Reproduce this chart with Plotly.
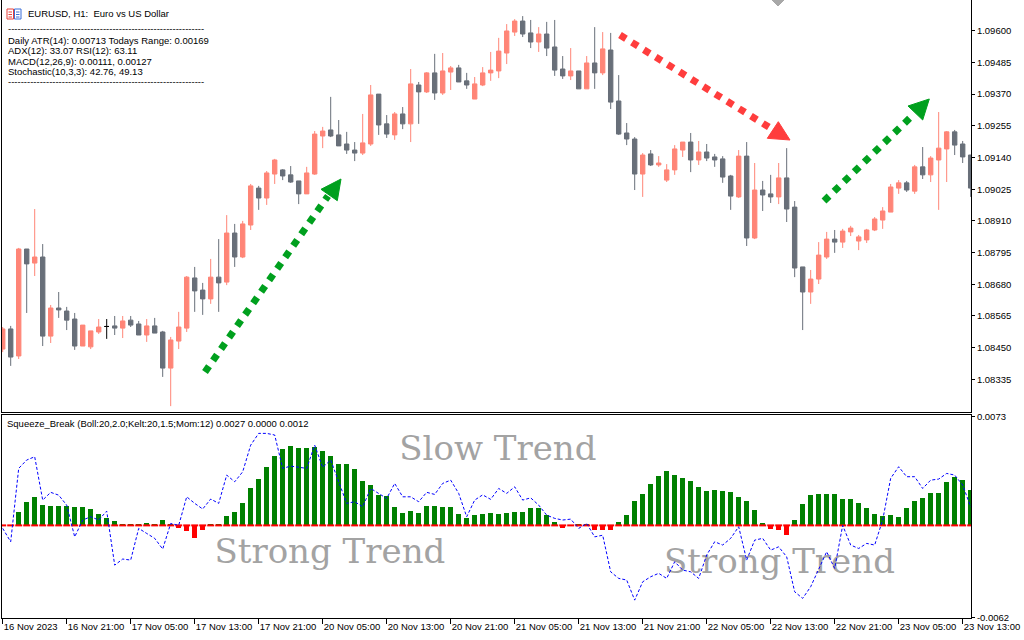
import plotly.graph_objects as go

# ---------------- data ----------------
tick_labels = ["16 Nov 2023", "16 Nov 21:00", "17 Nov 05:00", "17 Nov 13:00", "17 Nov 21:00",
               "20 Nov 05:00", "20 Nov 13:00", "20 Nov 21:00", "21 Nov 05:00", "21 Nov 13:00",
               "21 Nov 21:00", "22 Nov 05:00", "22 Nov 13:00", "22 Nov 21:00", "23 Nov 05:00",
               "23 Nov 13:00"]
price_ticks = [1.08335, 1.08450, 1.08565, 1.08680, 1.08795, 1.08910,
               1.09025, 1.09140, 1.09255, 1.09370, 1.09485, 1.09600]
ind_ticks = [-0.0062, 0.0073]

open_ = [1.08445, 1.08518, 1.08420, 1.08808, 1.08757, 1.08779, 1.08492, 1.08594, 1.08583, 1.08554,
         1.08456, 1.08453, 1.08507, 1.08527, 1.08529, 1.08521, 1.08550, 1.08536, 1.08496, 1.08529,
         1.08507, 1.08376, 1.08474, 1.08521, 1.08703, 1.08659, 1.08627, 1.08706, 1.08688, 1.08866,
         1.08779, 1.08895, 1.09029, 1.08993, 1.09080, 1.09095, 1.09077, 1.09055, 1.09008, 1.09080,
         1.09218, 1.09240, 1.09222, 1.09189, 1.09167, 1.09156, 1.09189, 1.09370, 1.09262, 1.09222,
         1.09298, 1.09262, 1.09403, 1.09378, 1.09447, 1.09374, 1.09450, 1.09465, 1.09418, 1.09352,
         1.09403, 1.09447, 1.09454, 1.09519, 1.09595, 1.09635, 1.09592, 1.09559, 1.09588, 1.09541,
         1.09461, 1.09436, 1.09454, 1.09389, 1.09483, 1.09447, 1.09530, 1.09345, 1.09229, 1.09207,
         1.09080, 1.09153, 1.09113, 1.09058, 1.09095, 1.09167, 1.09196, 1.09131, 1.09160, 1.09142,
         1.09135, 1.09073, 1.08997, 1.09145, 1.08848, 1.09022, 1.09008, 1.08997, 1.09066, 1.08960,
         1.08743, 1.08652, 1.08699, 1.08779, 1.08844, 1.08833, 1.08870, 1.08837, 1.08841, 1.08877,
         1.08913, 1.08942, 1.09029, 1.09048, 1.09018, 1.09106, 1.09077, 1.09131, 1.09171, 1.09233,
         1.09189, 1.09149]
high = [1.08525, 1.08529, 1.08812, 1.08808, 1.08953, 1.08826, 1.08605, 1.08652, 1.08598, 1.08576,
        1.08532, 1.08511, 1.08554, 1.08554, 1.08565, 1.08565, 1.08565, 1.08547, 1.08554, 1.08558,
        1.08511, 1.08489, 1.08580, 1.08710, 1.08743, 1.08685, 1.08772, 1.08844, 1.08931, 1.08899,
        1.08910, 1.09044, 1.09037, 1.09091, 1.09135, 1.09098, 1.09109, 1.09055, 1.09106, 1.09236,
        1.09251, 1.09360, 1.09276, 1.09233, 1.09196, 1.09298, 1.09403, 1.09370, 1.09294, 1.09305,
        1.09323, 1.09461, 1.09414, 1.09450, 1.09516, 1.09519, 1.09472, 1.09476, 1.09447, 1.09432,
        1.09468, 1.09523, 1.09574, 1.09624, 1.09642, 1.09653, 1.09639, 1.09613, 1.09632, 1.09639,
        1.09508, 1.09537, 1.09454, 1.09508, 1.09613, 1.09595, 1.09592, 1.09439, 1.09265, 1.09214,
        1.09156, 1.09167, 1.09145, 1.09116, 1.09185, 1.09196, 1.09229, 1.09200, 1.09189, 1.09153,
        1.09145, 1.09077, 1.09167, 1.09196, 1.09120, 1.09055, 1.09077, 1.09120, 1.09174, 1.08982,
        1.08743, 1.08732, 1.08833, 1.08870, 1.08877, 1.08881, 1.08892, 1.08859, 1.08881, 1.08924,
        1.08960, 1.09044, 1.09058, 1.09055, 1.09113, 1.09178, 1.09145, 1.09305, 1.09236, 1.09240,
        1.09200, 1.09149]
low = [1.08434, 1.08384, 1.08409, 1.08576, 1.08710, 1.08456, 1.08467, 1.08558, 1.08514, 1.08442,
       1.08456, 1.08445, 1.08500, 1.08482, 1.08496, 1.08485, 1.08525, 1.08496, 1.08471, 1.08503,
       1.08344, 1.08238, 1.08445, 1.08507, 1.08580, 1.08569, 1.08609, 1.08580, 1.08677, 1.08743,
       1.08775, 1.08877, 1.08950, 1.08968, 1.09044, 1.09058, 1.09048, 1.08971, 1.09008, 1.09077,
       1.09174, 1.09214, 1.09182, 1.09153, 1.09127, 1.09149, 1.09182, 1.09222, 1.09211, 1.09204,
       1.09243, 1.09196, 1.09262, 1.09374, 1.09349, 1.09367, 1.09385, 1.09414, 1.09389, 1.09352,
       1.09399, 1.09418, 1.09428, 1.09479, 1.09581, 1.09577, 1.09537, 1.09523, 1.09508, 1.09436,
       1.09425, 1.09421, 1.09389, 1.09389, 1.09389, 1.09439, 1.09316, 1.09222, 1.09185, 1.09022,
       1.08997, 1.09109, 1.09106, 1.09051, 1.09077, 1.09142, 1.09087, 1.09113, 1.09127, 1.09106,
       1.09048, 1.08950, 1.08993, 1.08819, 1.08844, 1.08946, 1.08975, 1.08971, 1.08906, 1.08706,
       1.08514, 1.08609, 1.08681, 1.08772, 1.08794, 1.08812, 1.08855, 1.08804, 1.08830, 1.08873,
       1.08881, 1.08942, 1.09008, 1.09015, 1.09008, 1.09062, 1.09051, 1.08950, 1.09051, 1.09149,
       1.09120, 1.08997]
close = [1.08518, 1.08416, 1.08808, 1.08754, 1.08779, 1.08492, 1.08594, 1.08587, 1.08550, 1.08456,
         1.08532, 1.08511, 1.08525, 1.08527, 1.08521, 1.08547, 1.08532, 1.08496, 1.08529, 1.08503,
         1.08376, 1.08478, 1.08525, 1.08706, 1.08656, 1.08627, 1.08706, 1.08685, 1.08866, 1.08779,
         1.08899, 1.09037, 1.08993, 1.09084, 1.09131, 1.09073, 1.09051, 1.09008, 1.09084, 1.09225,
         1.09236, 1.09218, 1.09182, 1.09167, 1.09156, 1.09193, 1.09367, 1.09258, 1.09225, 1.09298,
         1.09262, 1.09407, 1.09378, 1.09447, 1.09374, 1.09454, 1.09465, 1.09414, 1.09403, 1.09407,
         1.09447, 1.09457, 1.09526, 1.09599, 1.09635, 1.09588, 1.09559, 1.09588, 1.09537, 1.09457,
         1.09436, 1.09454, 1.09389, 1.09483, 1.09447, 1.09534, 1.09341, 1.09225, 1.09207, 1.09080,
         1.09149, 1.09113, 1.09120, 1.09095, 1.09171, 1.09196, 1.09131, 1.09160, 1.09138, 1.09131,
         1.09069, 1.09000, 1.09145, 1.08848, 1.09022, 1.09004, 1.08997, 1.09066, 1.08953, 1.08739,
         1.08652, 1.08699, 1.08786, 1.08844, 1.08833, 1.08873, 1.08884, 1.08852, 1.08877, 1.08917,
         1.08946, 1.09033, 1.09048, 1.09022, 1.09106, 1.09077, 1.09138, 1.09174, 1.09233, 1.09185,
         1.09142, 1.09029]

hist = [0.0, 0.0, 0.00096, 0.00159, 0.00197, 0.00143, 0.00136, 0.00136, 0.00136, 0.00125,
        0.00125, 0.00116, 0.00083, 0.00056, 0.00036, 0.00011, 0.00011, 0.00015, 0.00022, 0.00015,
        0.00042, 0.00015, -0.00011, -0.00036, -0.00079, -0.00029, 0.00011, 0.00011, 0.00069, 0.00096,
        0.00156, 0.00257, 0.00318, 0.00398, 0.00472, 0.00519, 0.00539, 0.00526, 0.00526, 0.00533,
        0.00501, 0.00472, 0.00418, 0.00418, 0.00385, 0.00304, 0.00277, 0.00210, 0.00203, 0.00130,
        0.00089, 0.00103, 0.00089, 0.00136, 0.00136, 0.00130, 0.00130, 0.00083, 0.00056, 0.00076,
        0.00080, 0.00089, 0.00083, 0.00089, 0.00096, 0.00096, 0.00123, 0.00123, 0.00076, 0.00029,
        -0.00015, 0.0, 0.00015, 0.00015, -0.00029, -0.00029, -0.00029, 0.00029, 0.00076, 0.00170,
        0.00217, 0.00284, 0.00338, 0.00371, 0.00345, 0.00324, 0.00304, 0.00264, 0.00237, 0.00244,
        0.00237, 0.00230, 0.00197, 0.00170, 0.00110, 0.00022, -0.00020, -0.00029, -0.00058, 0.00042,
        0.00150, 0.00210, 0.00217, 0.00217, 0.00217, 0.00183, 0.00183, 0.00156, 0.00123, 0.00083,
        0.00069, 0.00076, 0.00062, 0.00123, 0.00170, 0.00190, 0.00224, 0.00224, 0.00298, 0.00331,
        0.00311, 0.00244]
mom = [-0.00020, -0.00110, 0.00383, 0.00439, 0.00461, 0.00170, 0.00222, 0.00203, 0.00136, -0.00077,
       0.00036, 0.00058, 0.00036, 0.00096, -0.00267, -0.00226, -0.00233, -0.00020, -0.00054, -0.00087,
       -0.00159, 0.00013, 0.00000, 0.00192, 0.00148, 0.00110, 0.00177, 0.00148, 0.00338, 0.00293,
       0.00360, 0.00539, 0.00618, 0.00618, 0.00607, 0.00383, 0.00398, 0.00390, 0.00383, 0.00539,
       0.00390, 0.00439, 0.00293, 0.00148, 0.00159, 0.00125, 0.00248, 0.00215, 0.00181, 0.00282,
       0.00192, 0.00192, 0.00159, 0.00222, 0.00208, 0.00282, 0.00304, 0.00215, 0.00058, 0.00170,
       0.00205, 0.00175, 0.00248, 0.00215, 0.00259, 0.00170, 0.00185, 0.00136, 0.00069, 0.00047,
       0.00036, 0.00042, -0.00020, 0.00013, -0.00077, -0.00066, -0.00312, -0.00356, -0.00367, -0.00502,
       -0.00379, -0.00345, -0.00322, -0.00356, -0.00244, -0.00300, -0.00312, -0.00356, -0.00199, -0.00110,
       -0.00132, -0.00087, -0.00009, -0.00233, -0.00099, -0.00087, -0.00166, -0.00144, -0.00211, -0.00446,
       -0.00490, -0.00412, -0.00289, -0.00177, -0.00289, 0.00000, -0.00132, -0.00155, -0.00121, -0.00132,
       0.00036, 0.00316, 0.00394, 0.00327, 0.00327, 0.00248, 0.00304, 0.00311, 0.00349, 0.00338,
       0.00271, 0.00125]

header_lines = ["Daily ATR(14): 0.00713 Todays Range: 0.00169",
                "ADX(12): 33.07 RSI(12): 63.11",
                "MACD(12,26,9): 0.00111, 0.00127",
                "Stochastic(10,3,3): 42.76, 49.13"]

# ---------------- style ----------------
BULL = "#FF8577"
BEAR = "#686F79"
GREEN = "#008000"
RED = "#FF0000"
TXT_GREY = "#A3A3A3"
FONT = "Liberation Sans"
FS = 9.5

W, H = 1024, 640
ML, MR, MT, MB = 2, 53, 0, 22
PW, PH = W - ML - MR, H - MT - MB


def px(x):
    return (x - ML) / PW


def py(y):
    return 1 - (y - MT) / PH


n = len(open_)
idx = list(range(n))
main_i = [i for i in idx if open_[i] != close[i]]
doji_i = [i for i in idx if open_[i] == close[i]]

fig = go.Figure()

fig.add_trace(go.Candlestick(
    x=main_i,
    open=[open_[i] for i in main_i], high=[high[i] for i in main_i],
    low=[low[i] for i in main_i], close=[close[i] for i in main_i],
    increasing=dict(line=dict(color=BULL, width=1), fillcolor=BULL),
    decreasing=dict(line=dict(color=BEAR, width=1), fillcolor=BEAR),
    whiskerwidth=0, showlegend=False, hoverinfo="skip", xaxis="x", yaxis="y"))
fig.add_trace(go.Candlestick(
    x=doji_i,
    open=[open_[i] for i in doji_i], high=[high[i] for i in doji_i],
    low=[low[i] for i in doji_i], close=[close[i] for i in doji_i],
    increasing=dict(line=dict(color="#000000", width=1), fillcolor="#000000"),
    decreasing=dict(line=dict(color="#000000", width=1), fillcolor="#000000"),
    whiskerwidth=0, showlegend=False, hoverinfo="skip", xaxis="x", yaxis="y"))

# indicator window
fig.add_trace(go.Scatter(
    x=[61.9, 40.9, 97.1], y=[0.00498, -0.00198, -0.00265],
    mode="text", text=["Slow Trend", "Strong Trend", "Strong Trend"],
    textfont=dict(family="DejaVu Serif", size=34, color=TXT_GREY),
    showlegend=False, hoverinfo="skip", cliponaxis=False, xaxis="x2", yaxis="y2"))
fig.add_trace(go.Bar(
    x=idx, y=hist, width=0.6,
    marker=dict(color=[GREEN if v >= 0 else RED for v in hist], line=dict(width=0)),
    showlegend=False, hoverinfo="skip", xaxis="x2", yaxis="y2"))
fig.add_trace(go.Scatter(
    x=idx, y=[0.0] * n, mode="markers",
    marker=dict(symbol="line-ew", size=5, line=dict(color=RED, width=2)),
    showlegend=False, hoverinfo="skip", xaxis="x2", yaxis="y2"))
fig.add_trace(go.Scatter(
    x=idx, y=mom, mode="lines",
    line=dict(color="#0000FF", width=1, dash="3px,2px"),
    showlegend=False, hoverinfo="skip", xaxis="x2", yaxis="y2"))

xr = [-0.0875, 121.04]
top_dom = [py(411.5), 1]
bot_dom = [0, py(414.5)]

axis_common = dict(showgrid=False, zeroline=False, showline=True, linecolor="#000000",
                   linewidth=1, mirror=True, tickfont=dict(family=FONT, size=FS, color="#000000"),
                   tickcolor="#000000", tickwidth=1, automargin=False, tickangle=0)

fig.update_layout(
    width=W, height=H,
    margin=dict(l=ML, r=MR, t=MT, b=MB, pad=0, autoexpand=False),
    paper_bgcolor="#FFFFFF", plot_bgcolor="#FFFFFF",
    boxgap=0.45, boxgroupgap=0,
    bargap=0,
    showlegend=False,
    xaxis=dict(domain=[0, 1], range=xr, anchor="y", showticklabels=False, ticks="",
               rangeslider=dict(visible=False), **axis_common),
    yaxis=dict(domain=top_dom, range=[1.082185, 1.097114], side="right", ticks="outside",
               ticklen=3, tickmode="array", tickvals=price_ticks,
               ticktext=["%.5f" % v for v in price_ticks], anchor="x", **axis_common),
    xaxis2=dict(domain=[0, 1], range=xr, anchor="y2", ticks="outside", ticklen=5,
                tickmode="array", tickvals=[8 * k for k in range(len(tick_labels))],
                ticktext=tick_labels, ticklabelposition="outside right", **axis_common),
    yaxis2=dict(domain=bot_dom, range=[-0.00622, 0.007448], side="right", ticks="outside",
                ticklen=3, tickmode="array", tickvals=ind_ticks,
                ticktext=["%.4f" % v for v in ind_ticks], anchor="x2", **axis_common),
)

# ---------------- texts ----------------
ann = []


def add_text(x, y, s, size=FS, color="#000000"):
    ann.append(dict(x=px(x), y=py(y), xref="paper", yref="paper", text=s, showarrow=False,
                    xanchor="left", yanchor="middle",
                    font=dict(family=FONT, size=size, color=color)))


add_text(26, 14, "EURUSD, H1:  Euro vs US Dollar")
dashes = "-" * 62
add_text(6, 28.5, dashes)
for k, line in enumerate(header_lines):
    add_text(6, 40 + k * 10.6, line)
add_text(6, 82, dashes)
add_text(5, 423.3, "Squeeze_Break (Boll:20,2.0;Kelt:20,1.5;Mom:12) 0.0027 0.0000 0.0012")
fig.update_layout(annotations=ann)

# ---------------- shapes ----------------
shapes = []


def pline(x0, y0, x1, y1, color, width=1, dash="solid"):
    shapes.append(dict(type="line", xref="paper", yref="paper",
                       x0=px(x0), y0=py(y0), x1=px(x1), y1=py(y1),
                       line=dict(color=color, width=width, dash=dash), layer="above"))


def ppoly(pts, color):
    path = "M " + " L ".join("%.5f,%.5f" % (px(a), py(b)) for a, b in pts) + " Z"
    shapes.append(dict(type="path", xref="paper", yref="paper", path=path,
                       fillcolor=color, line=dict(color=color, width=1), layer="above"))


# icon
for (xa, xb, col) in [(7, 13.5, "#E8403A"), (14.5, 21, "#3A6FD8")]:
    shapes.append(dict(type="rect", xref="paper", yref="paper", x0=px(xa), x1=px(xb),
                       y0=py(19), y1=py(9), line=dict(color=col, width=1), fillcolor="#FFFFFF"))
    for yy in (12, 14.5, 17):
        pline(xa + 1.5, yy, xb - 1.5, yy, col, 1)

# chart shift marker
ppoly([(772, 0), (784, 0), (778, 6)], "#A8A8A8")

GA = "#00A01E"
RA = "#FF3D3D"
pline(205, 372, 328, 196, GA, 7, "7px,7px")
ppoly([(341, 179), (321, 189.3), (337.3, 200.7)], GA)
pline(620, 35, 772, 129, RA, 7, "7px,7px")
ppoly([(790, 140), (767.3, 138.3), (778.3, 121.7)], RA)
pline(824, 201, 914, 114, GA, 7, "7px,7px")
ppoly([(929.3, 99), (908, 106), (922.7, 120)], GA)

fig.update_layout(shapes=shapes)

fig.write_html("out.html")
